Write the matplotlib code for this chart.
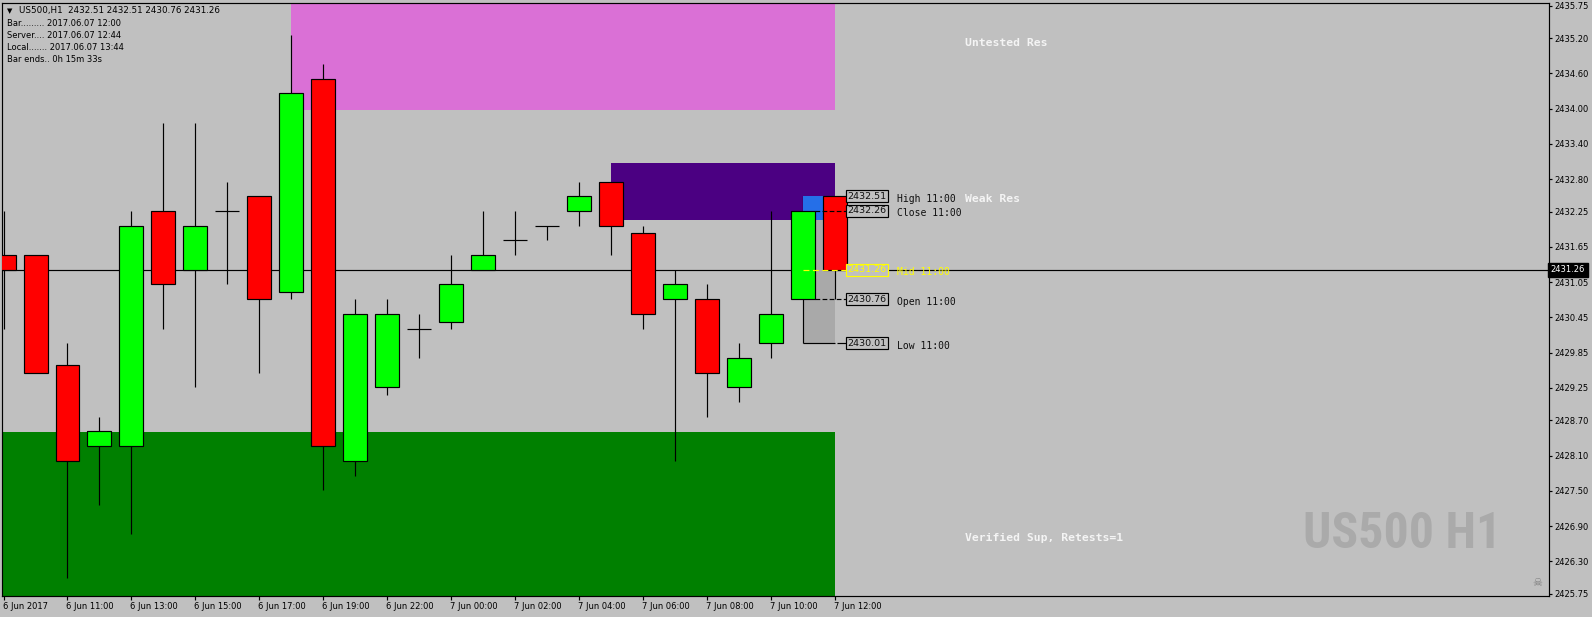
import matplotlib
matplotlib.use("Agg")
import matplotlib.pyplot as plt
import matplotlib.font_manager as fm
import matplotlib.transforms as mtrans
from matplotlib.patches import Rectangle

# ---------------- data ----------------
opens  = [2431.51, 2431.51, 2429.64, 2428.26, 2428.26, 2432.26, 2431.26, 2432.26, 2432.51,
          2430.89, 2434.51, 2428.01, 2429.26, 2430.26, 2430.38, 2431.26, 2431.76, 2432.01,
          2432.26, 2432.76, 2431.88, 2430.76, 2430.76, 2429.26, 2430.01, 2430.76, 2432.51]
highs  = [2432.26, 2431.51, 2430.01, 2428.76, 2432.26, 2433.76, 2433.76, 2432.76, 2432.51,
          2435.26, 2434.76, 2430.76, 2430.76, 2430.51, 2431.51, 2432.26, 2432.26, 2432.01,
          2432.76, 2432.76, 2432.01, 2431.26, 2431.01, 2430.01, 2432.26, 2432.51, 2432.51]
lows   = [2430.26, 2429.51, 2426.01, 2427.26, 2426.76, 2430.26, 2429.26, 2431.01, 2429.51,
          2430.76, 2427.51, 2427.76, 2429.13, 2429.76, 2430.26, 2431.26, 2431.51, 2431.76,
          2432.01, 2431.51, 2430.26, 2428.01, 2428.76, 2429.01, 2429.76, 2430.01, 2430.76]
closes = [2431.26, 2429.51, 2428.01, 2428.51, 2432.01, 2431.01, 2432.01, 2432.26, 2430.76,
          2434.26, 2428.26, 2430.51, 2430.51, 2430.26, 2431.01, 2431.51, 2431.76, 2432.01,
          2432.51, 2432.01, 2430.51, 2431.01, 2429.51, 2429.76, 2430.51, 2432.26, 2431.26]

xtick_idx = [0, 2, 4, 6, 8, 10, 12, 14, 16, 18, 20, 22, 24, 26]
xtick_lbl = ['6 Jun 2017', '6 Jun 11:00', '6 Jun 13:00', '6 Jun 15:00', '6 Jun 17:00',
             '6 Jun 19:00', '6 Jun 22:00', '7 Jun 00:00', '7 Jun 02:00', '7 Jun 04:00',
             '7 Jun 06:00', '7 Jun 08:00', '7 Jun 10:00', '7 Jun 12:00']
ytick_vals = [2435.75, 2435.20, 2434.60, 2434.00, 2433.40, 2432.80, 2432.25, 2431.65, 2431.05,
              2430.45, 2429.85, 2429.25, 2428.70, 2428.10, 2427.50, 2426.90, 2426.30, 2425.75]

current_price = 2431.26
# zones: (start bar, end bar, low, high)
zone_untested = (9, 26, 2433.97, 2437.0)
zone_weak     = (19, 26, 2432.10, 2433.08)
zone_verified = (-2, 26, 2424.0, 2428.50)
zone_labels = [('Untested Res', 2435.12), ('Weak Res', 2432.46), ('Verified Sup, Retests=1', 2426.70)]

last_bar = 25  # the 11:00 bar
level_names = ['High 11:00', 'Close 11:00', 'Mid 11:00', 'Open 11:00', 'Low 11:00']
level_vals  = [2432.51, 2432.26, 2431.26, 2430.76, 2430.01]

info_lines = ['Bar......... 2017.06.07 12:00', 'Server.... 2017.06.07 12:44',
              'Local....... 2017.06.07 13:44', 'Bar ends.. 0h 15m 33s']
header = 'US500,H1  2432.51 2432.51 2430.76 2431.26'

# ---------------- style ----------------
BG = '#c0c0c0'
W, H = 1592, 617
fig = plt.figure(figsize=(W / 100, H / 100), dpi=100, facecolor=BG)
ax = fig.add_axes([2 / W, 21 / H, 1547 / W, 593 / H])
ax.set_facecolor(BG)
ax.set_xlim(-0.047, 48.30)
ax.set_ylim(2425.712, 2435.797)

LW = 0.85
# zones
for (x0, x1, y0, y1), col in [(zone_untested, '#da70d6'), (zone_weak, '#4b0082'), (zone_verified, '#008000')]:
    ax.add_patch(Rectangle((x0, y0), x1 - x0, y1 - y0, facecolor=col, edgecolor='none', zorder=0.5))

# current price line
ax.axhline(current_price, color='black', lw=LW, zorder=0.8)

# range rectangle of the 11:00 bar
hi, lo = highs[last_bar], lows[last_bar]
ax.add_patch(Rectangle((last_bar, lo), 1, hi - lo, facecolor='#a9a9a9', edgecolor='none', zorder=1))
ax.add_patch(Rectangle((last_bar, zone_weak[2]), 1, hi - zone_weak[2], facecolor='#256fe8',
                       edgecolor='none', zorder=2.5))

# candles
bw = 0.75
for i, (o, h, l, c) in enumerate(zip(opens, highs, lows, closes)):
    ax.vlines(i, l, h, color='black', lw=LW, zorder=2)
    if abs(c - o) < 1e-9:
        ax.hlines(o, i - bw / 2, i + bw / 2, color='black', lw=LW, zorder=3)
    else:
        col = '#00ff00' if c > o else '#ff0000'
        ax.add_patch(Rectangle((i - bw / 2, min(o, c)), bw, abs(c - o), facecolor=col,
                               edgecolor='black', lw=LW, zorder=3))

# level lines of the 11:00 bar
bx0, bx1 = 26.33, 27.64
hb = 6 / 58.8
ax.hlines(level_vals[1], last_bar + bw / 2, bx0, colors='black', lw=LW, linestyles=(0, (4, 2)), zorder=4)
ax.hlines(level_vals[2], last_bar, bx0, colors='#ffff00', lw=LW, linestyles=(0, (5, 3)), zorder=4)
ax.hlines(level_vals[3], last_bar + bw / 2, bx0, colors='black', lw=LW, linestyles=(0, (4, 2)), zorder=4)
ax.hlines(level_vals[4], last_bar, last_bar + 1, colors='black', lw=LW, zorder=4)
ax.hlines(level_vals[4], last_bar + 1.05, bx0, colors='black', lw=LW, zorder=4)

for name, v in zip(level_names, level_vals):
    col = '#ffff00' if name.startswith('Mid') else 'black'
    tcol = '#ffff00' if name.startswith('Mid') else '#101010'
    ax.add_patch(Rectangle((bx0, v - hb), bx1 - bx0, 2 * hb, facecolor=BG, edgecolor=col, lw=LW, zorder=5))
    ax.text((bx0 + bx1) / 2, v, f'{v:.2f}', ha='center', va='center', fontsize=6.8,
            color=tcol, family='DejaVu Sans', zorder=6)
    ax.text(27.92, v - 0.04, name, ha='left', va='center', fontsize=7.0, color=tcol,
            family='DejaVu Sans Mono', zorder=6)

for txt, y in zone_labels:
    ax.text(30.05, y, txt, ha='left', va='center', fontsize=8.2, color='#f4f4f4',
            family='DejaVu Sans Mono', fontweight='bold', zorder=6)

# watermark
avail = {f.name for f in fm.fontManager.ttflist}
wm_family = next((n for n in ['Liberation Sans Narrow', 'Roboto Condensed', 'DejaVu Sans'] if n in avail),
                 'DejaVu Sans')
wm = ax.text(40.61, 2426.53, 'US500 H1', ha='left', va='baseline', fontsize=43, color='#aaaaaa',
             family=wm_family, fontweight='bold', zorder=0.6)
r = fig.canvas.get_renderer()
wbox = wm.get_window_extent(renderer=r)
if wbox.width > 200:
    wm.set_fontsize(43 * 198 / wbox.width)

ax.text(47.95, 2425.93, '\u2620', ha='center', va='center', fontsize=8, color='#7a7a7a',
        family='DejaVu Sans', zorder=6)

# axes / ticks
for s in ax.spines.values():
    s.set_color('black')
    s.set_linewidth(LW)
ax.yaxis.tick_right()
ax.set_yticks(ytick_vals)
ax.set_yticklabels([f'{v:.2f}' for v in ytick_vals])
ax.set_xticks(xtick_idx)
ax.set_xticklabels(xtick_lbl)
ax.tick_params(axis='y', direction='out', length=2.5, width=LW, labelsize=6, pad=1.5, colors='black')
ax.tick_params(axis='x', direction='out', length=3, width=LW, labelsize=6, pad=1.2, colors='black')
off = mtrans.ScaledTranslation(-1 / 100, 0, fig.dpi_scale_trans)
for lbl in ax.get_xticklabels():
    lbl.set_ha('left')
    lbl.set_transform(lbl.get_transform() + off)

# current price tag on the axis
blend = mtrans.blended_transform_factory(ax.transAxes, ax.transData)
ax.text(1.0012, current_price, f'{current_price:.2f}', transform=blend, ha='left', va='center',
        fontsize=6, color='white', family='DejaVu Sans', clip_on=False, zorder=10,
        bbox=dict(boxstyle='square,pad=0.3', facecolor='black', edgecolor='black'))

# info text top-left
fig.text(7 / W, 1 - 11 / H, '\u25bc', fontsize=5, va='center', ha='left', color='black', family='DejaVu Sans')
fig.text(19 / W, 1 - 11 / H, header, fontsize=6.3, va='center', ha='left', color='black', family='DejaVu Sans')
for k, line in enumerate(info_lines):
    fig.text(7 / W, 1 - (23 + 12 * k) / H, line, fontsize=6, va='center', ha='left', color='black',
             family='DejaVu Sans')

fig.savefig('out.png', dpi=100, facecolor=BG)
